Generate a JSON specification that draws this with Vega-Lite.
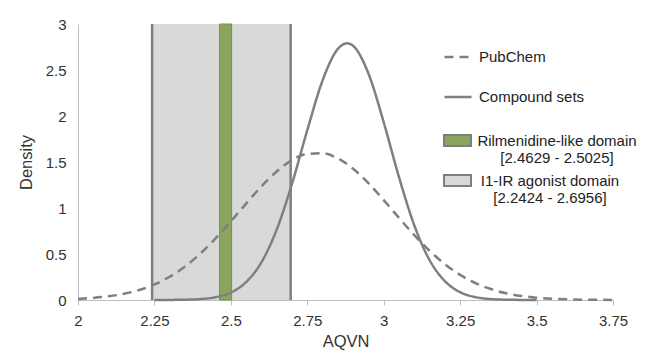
{
  "$schema": "https://vega.github.io/schema/vega-lite/v6.json",
  "autosize": {"type": "none"},
  "width": 535,
  "height": 276,
  "padding": {"left": 78, "top": 24, "right": 32, "bottom": 53},
  "background": "white",
  "config": {
    "view": {"stroke": null},
    "font": "Liberation Sans",
    "axis": {"labelFont": "Liberation Sans", "titleFont": "Liberation Sans", "labelColor": "#333333", "titleColor": "#333333", "titleFontWeight": "normal", "grid": false}
  },
  "datasets": {
    "curves": [
      {"x": 2.00, "density": 0.012, "series": "PubChem"},
      {"x": 2.05, "density": 0.023, "series": "PubChem"},
      {"x": 2.10, "density": 0.040, "series": "PubChem"},
      {"x": 2.15, "density": 0.067, "series": "PubChem"},
      {"x": 2.20, "density": 0.108, "series": "PubChem"},
      {"x": 2.25, "density": 0.169, "series": "PubChem"},
      {"x": 2.30, "density": 0.253, "series": "PubChem"},
      {"x": 2.35, "density": 0.364, "series": "PubChem"},
      {"x": 2.40, "density": 0.504, "series": "PubChem"},
      {"x": 2.45, "density": 0.670, "series": "PubChem"},
      {"x": 2.50, "density": 0.855, "series": "PubChem"},
      {"x": 2.55, "density": 1.048, "series": "PubChem"},
      {"x": 2.60, "density": 1.235, "series": "PubChem"},
      {"x": 2.65, "density": 1.397, "series": "PubChem"},
      {"x": 2.70, "density": 1.520, "series": "PubChem"},
      {"x": 2.75, "density": 1.588, "series": "PubChem"},
      {"x": 2.80, "density": 1.595, "series": "PubChem"},
      {"x": 2.85, "density": 1.539, "series": "PubChem"},
      {"x": 2.90, "density": 1.426, "series": "PubChem"},
      {"x": 2.95, "density": 1.270, "series": "PubChem"},
      {"x": 3.00, "density": 1.086, "series": "PubChem"},
      {"x": 3.05, "density": 0.893, "series": "PubChem"},
      {"x": 3.10, "density": 0.705, "series": "PubChem"},
      {"x": 3.15, "density": 0.535, "series": "PubChem"},
      {"x": 3.20, "density": 0.390, "series": "PubChem"},
      {"x": 3.25, "density": 0.273, "series": "PubChem"},
      {"x": 3.30, "density": 0.184, "series": "PubChem"},
      {"x": 3.35, "density": 0.119, "series": "PubChem"},
      {"x": 3.40, "density": 0.074, "series": "PubChem"},
      {"x": 3.45, "density": 0.044, "series": "PubChem"},
      {"x": 3.50, "density": 0.025, "series": "PubChem"},
      {"x": 3.55, "density": 0.014, "series": "PubChem"},
      {"x": 3.60, "density": 0.007, "series": "PubChem"},
      {"x": 3.65, "density": 0.004, "series": "PubChem"},
      {"x": 3.70, "density": 0.002, "series": "PubChem"},
      {"x": 3.75, "density": 0.001, "series": "PubChem"},
      {"x": 2.25, "density": 0.000, "series": "Compound sets"},
      {"x": 2.30, "density": 0.001, "series": "Compound sets"},
      {"x": 2.35, "density": 0.003, "series": "Compound sets"},
      {"x": 2.40, "density": 0.010, "series": "Compound sets"},
      {"x": 2.45, "density": 0.030, "series": "Compound sets"},
      {"x": 2.50, "density": 0.082, "series": "Compound sets"},
      {"x": 2.55, "density": 0.195, "series": "Compound sets"},
      {"x": 2.60, "density": 0.410, "series": "Compound sets"},
      {"x": 2.65, "density": 0.766, "series": "Compound sets"},
      {"x": 2.70, "density": 1.263, "series": "Compound sets"},
      {"x": 2.75, "density": 1.846, "series": "Compound sets"},
      {"x": 2.80, "density": 2.386, "series": "Compound sets"},
      {"x": 2.85, "density": 2.729, "series": "Compound sets"},
      {"x": 2.88, "density": 2.790, "series": "Compound sets"},
      {"x": 2.90, "density": 2.762, "series": "Compound sets"},
      {"x": 2.95, "density": 2.462, "series": "Compound sets"},
      {"x": 3.00, "density": 1.932, "series": "Compound sets"},
      {"x": 3.05, "density": 1.335, "series": "Compound sets"},
      {"x": 3.10, "density": 0.812, "series": "Compound sets"},
      {"x": 3.15, "density": 0.434, "series": "Compound sets"},
      {"x": 3.20, "density": 0.205, "series": "Compound sets"},
      {"x": 3.25, "density": 0.085, "series": "Compound sets"},
      {"x": 3.30, "density": 0.031, "series": "Compound sets"},
      {"x": 3.35, "density": 0.010, "series": "Compound sets"},
      {"x": 3.40, "density": 0.003, "series": "Compound sets"},
      {"x": 3.45, "density": 0.001, "series": "Compound sets"},
      {"x": 3.50, "density": 0.000, "series": "Compound sets"}
    ],
    "domains": [
      {"start": 2.2424, "end": 2.6956, "domain": "I1-IR agonist domain|[2.2424 - 2.6956]"},
      {"start": 2.4629, "end": 2.5025, "domain": "Rilmenidine-like domain|[2.4629 - 2.5025]"}
    ],
    "bounds": [
      {"x": 2.2424},
      {"x": 2.6956}
    ]
  },
  "layer": [
    {
      "data": {"name": "domains"},
      "mark": {"type": "rect", "strokeWidth": 0},
      "encoding": {
        "x": {"field": "start", "type": "quantitative", "scale": {"domain": [2, 3.75], "nice": false, "zero": false},
          "axis": {"title": "AQVN", "values": [2, 2.25, 2.5, 2.75, 3, 3.25, 3.5, 3.75], "labelExpr": "'' + datum.value", "labelFlush": false, "labelFontSize": 15, "titleFontSize": 16.5, "domainColor": "#bfbfbf", "domainWidth": 1, "tickColor": "#bfbfbf", "tickSize": 5, "labelPadding": 8, "titlePadding": 5}},
        "x2": {"field": "end"},
        "fill": {"field": "domain", "type": "nominal",
          "scale": {"domain": ["Rilmenidine-like domain|[2.4629 - 2.5025]", "I1-IR agonist domain|[2.2424 - 2.6956]"], "range": ["#8ba65c", "#d9d9d9"]},
          "legend": {
            "title": null, "orient": "none", "legendX": 365, "legendY": 102, "padding": 0,
            "symbolType": "M-1,-0.4H1V0.4H-1Z", "symbolSize": 729, "symbolStrokeColor": "#7f7f7f", "symbolStrokeWidth": 2, "symbolOpacity": 1,
            "labelFont": "Liberation Sans", "labelFontSize": 15, "labelColor": "#222222", "labelLimit": 400, "labelOffset": 6, "rowPadding": -2,
            "labelExpr": "split(datum.label, '|')",
            "encode": {
              "symbols": {"update": {"stroke": {"value": "#7f7f7f"}, "strokeWidth": {"value": 2}}},
              "labels": {"update": {"lineHeight": {"value": 17}, "align": {"value": "center"}, "dx": {"signal": "indexof(datum.value, 'Rilmenidine') >= 0 ? 79 : 72"}}}
            }
          }
        }
      }
    },
    {
      "data": {"name": "domains"},
      "transform": [{"filter": "indexof(datum.domain, 'Rilmenidine') >= 0"}],
      "mark": {"type": "rect", "fill": "#8ba65c", "stroke": "#7a9150", "strokeWidth": 1},
      "encoding": {
        "x": {"field": "start", "type": "quantitative"},
        "x2": {"field": "end"}
      }
    },
    {
      "data": {"name": "bounds"},
      "mark": {"type": "rule", "color": "#7f7f7f", "strokeWidth": 2.5},
      "encoding": {"x": {"field": "x", "type": "quantitative"}}
    },
    {
      "data": {"name": "curves"},
      "mark": {"type": "line", "interpolate": "monotone", "color": "#7f7f7f", "strokeWidth": 2.5},
      "encoding": {
        "x": {"field": "x", "type": "quantitative"},
        "y": {"field": "density", "type": "quantitative", "scale": {"domain": [0, 3], "nice": false},
          "axis": {"title": "Density", "values": [0, 0.5, 1, 1.5, 2, 2.5, 3], "labelExpr": "'' + datum.value", "labelFontSize": 15, "titleFontSize": 16.5, "ticks": false, "labelPadding": 12, "domainColor": "#bfbfbf", "domainWidth": 1, "titlePadding": 11}},
        "strokeDash": {"field": "series", "type": "nominal",
          "scale": {"domain": ["PubChem", "Compound sets"], "range": [[9, 6], [1, 0]]},
          "legend": {
            "title": null, "orient": "none", "legendX": 365, "legendY": 18, "padding": 0,
            "symbolType": "stroke", "symbolSize": 729, "symbolStrokeColor": "#7f7f7f", "symbolStrokeWidth": 2.5,
            "labelFont": "Liberation Sans", "labelFontSize": 15, "labelColor": "#222222", "labelLimit": 400, "labelOffset": 6, "rowPadding": 17
          }
        }
      }
    }
  ]
}
